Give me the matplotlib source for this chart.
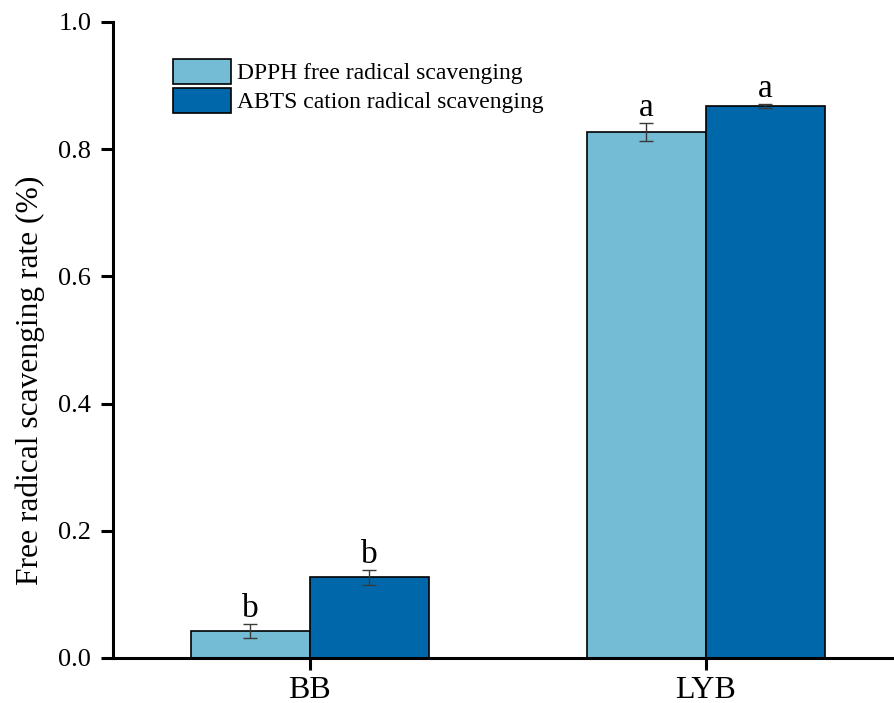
import matplotlib
matplotlib.use("Agg")
import matplotlib.pyplot as plt
import numpy as np

# datos
grupos = ["BB", "LYB"]
series = ["DPPH free radical scavenging", "ABTS cation radical scavenging"]
dpph = [0.042, 0.827]
dpph_err = [0.011, 0.014]
abts = [0.127, 0.868]
abts_err = [0.012, 0.003]
letras_dpph = ["b", "a"]
letras_abts = ["b", "a"]
colores = ["#74BBD5", "#0068AA"]

plt.rcParams['font.family'] = ['Liberation Serif', 'DejaVu Serif']

fig = plt.figure(figsize=(8.94, 7.03), dpi=100)
ax = fig.add_axes([113/894, 1 - 658/703, 1 - 113/894, (658 - 22)/703])

x = np.arange(len(grupos))
ancho = 0.3

ax.bar(x - ancho/2, dpph, ancho, color=colores[0], edgecolor="black", linewidth=1.2,
       label=series[0], zorder=2)
ax.bar(x + ancho/2, abts, ancho, color=colores[1], edgecolor="black", linewidth=1.2,
       label=series[1], zorder=2)
ax.errorbar(x - ancho/2, dpph, yerr=dpph_err, fmt="none", ecolor="#3a3a3a",
            elinewidth=1.0, capsize=4.7, capthick=1.0, zorder=3)
ax.errorbar(x + ancho/2, abts, yerr=abts_err, fmt="none", ecolor="#3a3a3a",
            elinewidth=1.0, capsize=4.7, capthick=1.0, zorder=3)

# letras de significancia
for i in range(len(grupos)):
    ax.text(x[i] - ancho/2, dpph[i] + dpph_err[i] + 0.011, letras_dpph[i],
            ha="center", va="baseline", fontsize=24)
    ax.text(x[i] + ancho/2, abts[i] + abts_err[i] + 0.011, letras_abts[i],
            ha="center", va="baseline", fontsize=24)

ax.set_xlim(-0.497, 1.475)
ax.set_ylim(0, 1.0)
ax.set_xticks(x)
ax.set_xticklabels(grupos, fontsize=23)
ax.set_yticks([0.0, 0.2, 0.4, 0.6, 0.8, 1.0])
ax.set_yticklabels(["%.1f" % v for v in [0.0, 0.2, 0.4, 0.6, 0.8, 1.0]], fontsize=19)
ax.set_ylabel("Free radical scavenging rate (%)", fontsize=22.7)
ax.yaxis.set_label_coords(-0.087, 0.437)

for lado in ["top", "right"]:
    ax.spines[lado].set_visible(False)
for lado in ["left", "bottom"]:
    ax.spines[lado].set_linewidth(2.2)
ax.tick_params(axis="both", direction="out", length=8.6, width=2.2)
ax.tick_params(axis="y", pad=7)
ax.tick_params(axis="x", pad=4)

ax.legend(loc="upper left", bbox_to_anchor=((173 - 113)/781, (658 - 59)/636),
          frameon=False, fontsize=17, handlelength=2.46, handleheight=1.25,
          labelspacing=0.15, handletextpad=0.25, borderpad=0, borderaxespad=0)

fig.savefig("out.png", dpi=100)
